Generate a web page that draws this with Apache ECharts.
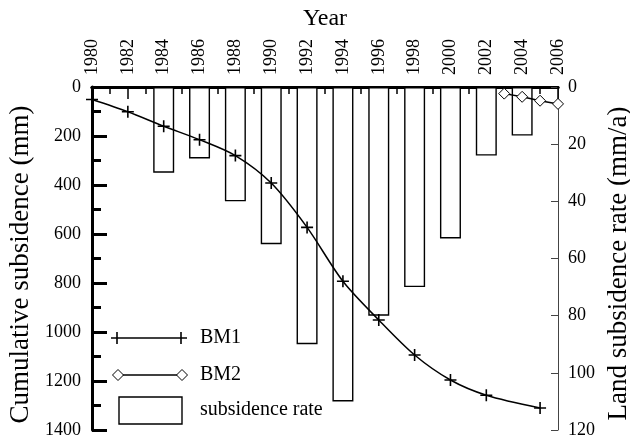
<!DOCTYPE html>
<html>
<head>
<meta charset="utf-8">
<script src="https://cdn.jsdelivr.net/npm/echarts@6/dist/echarts.min.js"></script>
<style>
html,body{margin:0;padding:0;background:#fff;}
#chart{width:630px;height:441px;}
</style>
</head>
<body>
<div id="chart"></div>
<script>
// ---- data ----
var yearTicks = [1980,1982,1984,1986,1988,1990,1992,1994,1996,1998,2000,2002,2004,2006];
var bm1Years = [1980,1982,1984,1986,1988,1990,1992,1994,1996,1998,2000,2002,2005];
var bm1Values = [51,101,160,215,280,392,573,793,951,1094,1196,1258,1310];
var bm2Years = [2003,2004,2005,2006];
var bm2Values = [27,40,56,69];
var rateYears = [1984,1986,1988,1990,1992,1994,1996,1998,2000,2002,2004];
var rateValues = [30,25,40,55,90,110,80,70,53,24,17];
var leftTicks = [0,200,400,600,800,1000,1200,1400];
var rightTicks = [0,20,40,60,80,100,120];

function pairs(xs, ys){ return xs.map(function(x,i){ return [x, ys[i]]; }); }

var FONT = 'Liberation Serif';
var plusPath = 'path://M0,5.2H12V6.8H0Z M5.2,0H6.8V12H5.2Z';

var chart = echarts.init(document.getElementById('chart'), null, {renderer:'canvas'});

var option = {
  backgroundColor: '#fff',
  animation: false,
  grid: { left: 92, right: 72, top: 87, bottom: 11, containLabel: false, outerBoundsMode: 'none' },
  xAxis: [{
    type: 'value', position: 'top',
    min: yearTicks[0], max: yearTicks[yearTicks.length-1], interval: 2,
    name: 'Year', nameLocation: 'middle', nameGap: 56,
    nameTextStyle: { fontFamily: FONT, fontSize: 24, color: '#000' },
    axisLine: { show: true, lineStyle: { color: '#000', width: 3 } },
    axisTick: { show: true, inside: true, length: 12, lineStyle: { color: '#000', width: 1.5 } },
    minorTick: { show: true, splitNumber: 2, length: 7, lineStyle: { color: '#000', width: 1.5 } },
    axisLabel: { rotate: 90, fontFamily: FONT, fontSize: 18, color: '#000', margin: 12,
                 formatter: function(v){ return String(v); } },
    splitLine: { show: false }
  },{
    type: 'value', position: 'bottom',
    min: yearTicks[0], max: yearTicks[yearTicks.length-1], interval: 2,
    axisLine: { show: true, lineStyle: { color: '#000', width: 3 } },
    axisTick: { show: false }, axisLabel: { show: false }, splitLine: { show: false }
  }],
  yAxis: [{
    type: 'value', position: 'left', inverse: true,
    min: leftTicks[0], max: leftTicks[leftTicks.length-1], interval: 200,
    name: 'Cumulative subsidence (mm)', nameLocation: 'middle', nameGap: 56,
    nameTextStyle: { fontFamily: FONT, fontSize: 27, color: '#000', padding: [0, 12, 0, 0] },
    axisLine: { show: true, lineStyle: { color: '#000', width: 3 } },
    axisTick: { show: true, inside: true, length: 15, lineStyle: { color: '#000', width: 3 } },
    minorTick: { show: true, splitNumber: 2, length: 9, lineStyle: { color: '#000', width: 3 } },
    axisLabel: { fontFamily: FONT, fontSize: 18, color: '#000', margin: 11,
                 formatter: function(v){ return String(v); } },
    splitLine: { show: false }
  },{
    type: 'value', position: 'right', inverse: true,
    min: rightTicks[0], max: rightTicks[rightTicks.length-1], interval: 20,
    name: 'Land subsidence rate (mm/a)', nameLocation: 'middle', nameGap: 46,
    nameTextStyle: { fontFamily: FONT, fontSize: 27, color: '#000', padding: [0, 10, 0, 0] },
    axisLine: { show: true, lineStyle: { color: '#444', width: 1 } },
    axisTick: { show: true, inside: true, length: 7, lineStyle: { color: '#444', width: 1 } },
    axisLabel: { fontFamily: FONT, fontSize: 18, color: '#000', margin: 10,
                 formatter: function(v){ return String(v); } },
    splitLine: { show: false }
  }],
  series: [{
    name: 'subsidence rate', type: 'bar', xAxisIndex: 0, yAxisIndex: 1,
    data: pairs(rateYears, rateValues), barWidth: 21,
    itemStyle: { color: '#fff', borderColor: '#000', borderWidth: 1.4 },
    z: 1
  },{
    name: 'BM1', type: 'line', xAxisIndex: 0, yAxisIndex: 0,
    data: pairs(bm1Years, bm1Values),
    smooth: 0.3,
    symbol: plusPath, symbolSize: 12, showAllSymbol: true,
    itemStyle: { color: '#000' },
    lineStyle: { color: '#000', width: 1.5 },
    clip: false, z: 3
  },{
    name: 'BM2', type: 'line', xAxisIndex: 0, yAxisIndex: 0,
    data: pairs(bm2Years, bm2Values),
    symbol: 'diamond', symbolSize: 11,
    itemStyle: { color: '#fff', borderColor: '#000', borderWidth: 1 },
    lineStyle: { color: '#000', width: 1.5 },
    clip: false, z: 3
  }],
  graphic: [
    // legend: BM1
    { type: 'line', shape: { x1: 111, y1: 338, x2: 187, y2: 338 }, style: { stroke: '#000', lineWidth: 1.5 }, z: 10 },
    { type: 'line', shape: { x1: 117, y1: 332, x2: 117, y2: 344 }, style: { stroke: '#000', lineWidth: 1.6 }, z: 10 },
    { type: 'line', shape: { x1: 181, y1: 332, x2: 181, y2: 344 }, style: { stroke: '#000', lineWidth: 1.6 }, z: 10 },
    { type: 'text', left: 200, top: 328, style: { text: 'BM1', font: '20px "Liberation Serif"', fill: '#000' }, z: 10 },
    // legend: BM2
    { type: 'line', shape: { x1: 118, y1: 375, x2: 182, y2: 375 }, style: { stroke: '#000', lineWidth: 1.5 }, z: 10 },
    { type: 'polygon', shape: { points: [[118,369.5],[123.5,375],[118,380.5],[112.5,375]] }, style: { fill: '#fff', stroke: '#000', lineWidth: 1 }, z: 11 },
    { type: 'polygon', shape: { points: [[182,369.5],[187.5,375],[182,380.5],[176.5,375]] }, style: { fill: '#fff', stroke: '#000', lineWidth: 1 }, z: 11 },
    { type: 'text', left: 200, top: 365, style: { text: 'BM2', font: '20px "Liberation Serif"', fill: '#000' }, z: 10 },
    // legend: subsidence rate
    { type: 'rect', shape: { x: 119, y: 397, width: 63, height: 27 }, style: { fill: '#fff', stroke: '#000', lineWidth: 1.4 }, z: 10 },
    { type: 'text', left: 200, top: 400, style: { text: 'subsidence rate', font: '20px "Liberation Serif"', fill: '#000' }, z: 10 }
  ]
};
chart.setOption(option);
</script>
</body>
</html>
